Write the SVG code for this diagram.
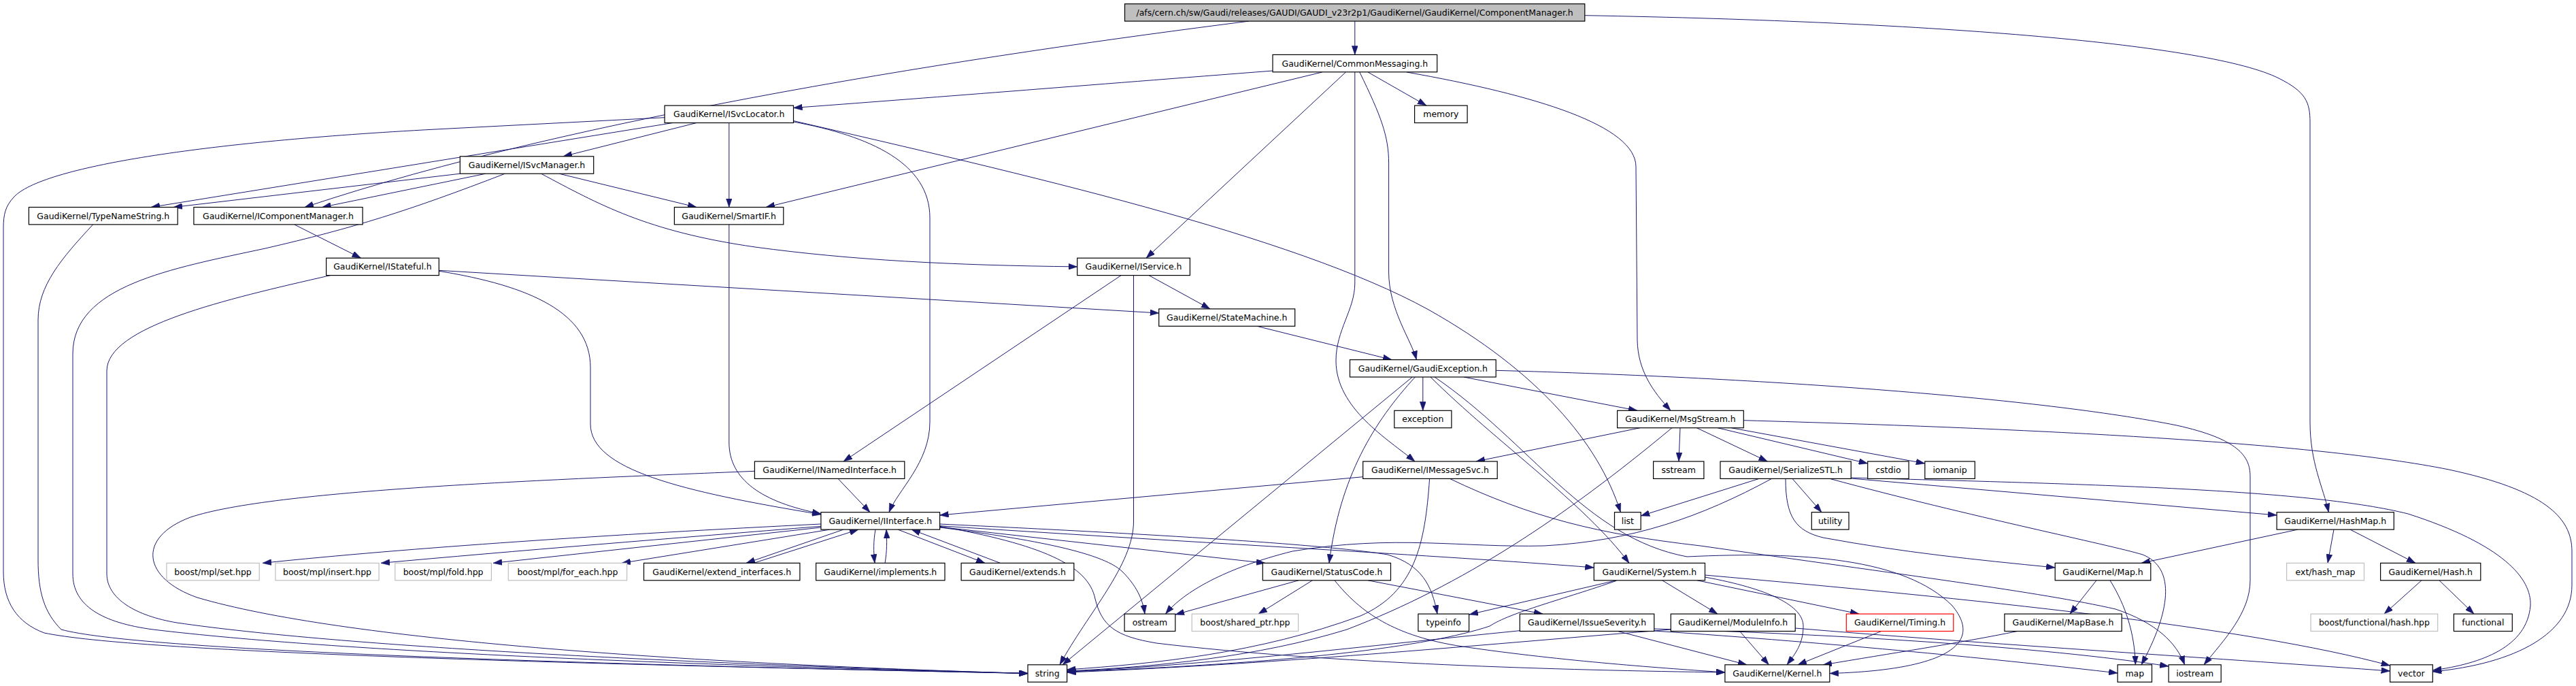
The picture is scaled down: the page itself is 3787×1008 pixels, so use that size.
<svg xmlns="http://www.w3.org/2000/svg" width="3787" height="1008" viewBox="0 0 3787 1008">
<style>
.node rect{fill:#fff;stroke:#000;stroke-width:1.2}
.node.ext rect{stroke:#bfbfbf}
.node.root rect{fill:#bfbfbf}
.node.red rect{stroke:#ff0000}
.node text{font-family:"DejaVu Sans","Liberation Sans",sans-serif;font-size:12.5px;text-anchor:middle;fill:#000}
#edges path{fill:none;stroke:#191970;stroke-width:1;marker-end:url(#arr)}
</style>
<defs>
<marker id="arr" markerUnits="userSpaceOnUse" markerWidth="13" markerHeight="9" refX="13" refY="4.5" orient="auto">
<path d="M0,0 L13,4.5 L0,9 z" fill="#191970" stroke="#191970" stroke-width="0.5"/>
</marker>
</defs>
<rect x="0" y="0" width="3787" height="1008" fill="#fff"/>
<g id="edges">
<path d="M1991.8,31.1 L1991.8,80.4"/>
<path d="M1836,31.1 C1450,80 850,170 448,304.5"/>
<path d="M2329.8,22.7 C2850,32 3250,65 3350,115 C3390,135 3396,150 3396,180 L3396,620 C3396,680 3415,715 3423.4,752.7"/>
<path d="M1871,104 C1600,125 1350,145 1166.5,158.5"/>
<path d="M1943.7,106 L1126,304.5"/>
<path d="M1978.4,106 L1685,379.2"/>
<path d="M1991.8,106 L1991.8,416 C1991.8,455 1964,485 1964,530 C1964,600 2040,645 2080,678"/>
<path d="M1998.8,106 C2030,170 2041.6,200 2041.6,240 L2041.6,400 C2041.6,455 2075,500 2082.4,528.6"/>
<path d="M2068,106 C2260,140 2405,185 2405,245 L2407,500 C2408,545 2430,575 2456,603.3"/>
<path d="M2011,106 L2097,155.1"/>
<path d="M1024,180.5 L828,229.8"/>
<path d="M1071.8,180.5 L1071.8,304.5"/>
<path d="M989,180.5 L222,304.5"/>
<path d="M977.1,172.7 L640,190 C300,208 60,245 20,290 C8,303 5,315 5,335 L5,840 C5,885 25,915 65,930 C200,958 800,975 1511,989.5"/>
<path d="M1166.5,179 C1280,200 1367,240 1367,320 L1367,620 C1367,680 1320,720 1307,752.7"/>
<path d="M1166.5,177.5 C1500,255 1900,345 2100,455 C2260,545 2350,650 2382.4,752.7"/>
<path d="M676.3,255.2 L255,304.5"/>
<path d="M714,255.2 L473.5,304.5"/>
<path d="M822,255.2 L1024,304.5"/>
<path d="M795.5,255.2 C880,300 950,340 1110,363 C1250,382 1400,390 1583.7,391.9"/>
<path d="M742.4,255.2 C600,310 520,335 390,365 C250,395 107,420 107,520 L107,843 C107,890 150,915 225,925 C500,958 1000,977 1511,989.5"/>
<path d="M432.7,329.9 L530.6,379.2"/>
<path d="M136.7,329.9 C90,380 56,420 56,470 L56,823 C56,870 65,900 90,925 C200,955 800,975 1511,989.5"/>
<path d="M1071.8,329.9 L1071.8,650 C1071.8,705 1120,738 1207,755"/>
<path d="M645.3,397.3 L1703.7,460"/>
<path d="M645.3,398.3 C780,420 868,460 868,540 L868,623 C868,690 1000,722 1207,756"/>
<path d="M485.7,404.6 C330,440 157,480 157,545 L157,843 C157,880 200,905 260,915 C500,950 1000,975 1511,989.5"/>
<path d="M1648.2,404.6 L1240,678"/>
<path d="M1689,404.6 L1779,453.9"/>
<path d="M1666.5,404.6 L1666.5,766 C1666.5,830 1600,900 1558,976.8"/>
<path d="M1848,479.3 L2046,528.6"/>
<path d="M2091.8,554 L2091.8,603.3"/>
<path d="M2151.8,554 L2407,603.3"/>
<path d="M2199.2,544.3 C2600,555 3000,585 3200,625 C3290,645 3308,670 3308,700 L3308,853 C3308,900 3270,940 3240,976.8"/>
<path d="M2076.3,554 L1562,976.8"/>
<path d="M2080.4,554 C2020,620 1970,700 1954,827.4"/>
<path d="M2103,554 C2200,650 2330,740 2395,827.4"/>
<path d="M2109,554 C2250,650 2330,790 2480,818 C2650,810 2800,820 2870,890 C2920,950 2850,985 2689.8,989.5"/>
<path d="M2411,628.7 L2170,678"/>
<path d="M2470,628.7 L2468,678"/>
<path d="M2458,628.7 C2300,760 2150,860 1980,925 C1850,965 1700,980 1568.6,986"/>
<path d="M2494.3,628.7 L2598.4,678"/>
<path d="M2525,628.7 L2745.7,681"/>
<path d="M2545,628.7 L2829.8,681"/>
<path d="M2563.3,617.7 C3000,630 3400,650 3600,690 C3740,720 3781,760 3781,810 L3781,860 C3781,930 3700,975 3576.3,987"/>
<path d="M2003.7,700.7 L1381.6,757"/>
<path d="M2101.6,703.4 C2095,800 2080,870 2000,905 C1850,960 1700,975 1568.6,984"/>
<path d="M2131.4,703.4 C2250,760 2350,785 2500,802 C2800,845 3000,870 3110,895 C3170,915 3200,945 3211.7,976.8"/>
<path d="M1232,703.4 L1279,752.7"/>
<path d="M1109.4,692.3 C800,705 400,720 280,760 C200,790 210,850 290,878 C500,940 1000,975 1511,989.5"/>
<path d="M2604.5,703.4 C2500,760 2400,795 2270,802 C2150,805 2050,785 1900,810 C1800,835 1740,870 1713.5,902.1"/>
<path d="M2586,703.4 L2412.2,758"/>
<path d="M2635,703.4 L2678,752.7"/>
<path d="M2625,703.4 C2625,760 2640,780 2680,790 C2800,812 2900,822 3021.2,834"/>
<path d="M2690,703.4 C2900,760 3100,800 3150,815 C3200,835 3190,900 3148,976.8"/>
<path d="M2721.2,703 L3347.1,757"/>
<path d="M2721.2,702 C3100,712 3400,720 3540,755 C3680,800 3722,850 3720,890 C3715,950 3650,975 3576.3,985"/>
<path d="M1206.9,770 C900,785 600,805 386,827.4"/>
<path d="M1206.9,773.3 C1000,790 750,810 560,827.4"/>
<path d="M1206.9,775 L725,827.4"/>
<path d="M1220,778.1 L914,827.4"/>
<path d="M1240,778.1 L1097,827.4"/>
<path d="M1108,827.4 L1262,778.1"/>
<path d="M1287,778.1 C1284,795 1284,810 1286,827.4"/>
<path d="M1301,827.4 C1304,810 1304,795 1303,778.1"/>
<path d="M1320,778.1 L1448,827.4"/>
<path d="M1470.6,827.4 L1340,778.1"/>
<path d="M1381.6,774.3 L1860,827.4"/>
<path d="M1381.6,772.7 C1800,800 2100,815 2343.3,834"/>
<path d="M1381.6,775 C1500,790 1620,810 1650,840 C1670,860 1680,880 1683,902.1"/>
<path d="M1381.6,770 C1700,785 1950,800 2040,815 C2090,830 2105,860 2113,902.1"/>
<path d="M1381.6,773.3 C1530,800 1600,830 1610,880 C1620,920 1640,935 1700,945 C1950,975 2300,985 2535.9,988"/>
<path d="M1909,852.8 L1728,903"/>
<path d="M1929.4,852.8 L1850,902.1"/>
<path d="M2011,852.8 L2268,902.1"/>
<path d="M1962,852.8 C2000,900 2050,935 2150,950 C2300,972 2450,982 2535.9,988"/>
<path d="M2234.3,926.7 C2000,950 1800,975 1568.6,987"/>
<path d="M2378.4,927.5 L2568,976.8"/>
<path d="M2431.8,927 C2700,945 2950,970 3113.1,989"/>
<path d="M2431.8,924 C2700,932 3000,950 3188.1,979"/>
<path d="M2376.3,852.8 L2160,903"/>
<path d="M2376.3,853.3 C2300,880 2220,900 2190,920 C2100,950 1900,975 1568.6,987"/>
<path d="M2443.7,852.8 L2525,902.1"/>
<path d="M2495,852.8 L2733,902.1"/>
<path d="M2506.5,848 C2600,865 2651,890 2651,920 C2651,945 2640,960 2627,976.8"/>
<path d="M2506.5,845 C2900,880 3300,920 3513.6,978"/>
<path d="M2557.6,927.5 L2600.4,976.8"/>
<path d="M2456.3,925 C2200,945 1900,975 1568.6,988"/>
<path d="M2639.2,923 C2900,945 3300,970 3513.6,986"/>
<path d="M2765.7,927.5 L2643,976.8"/>
<path d="M2965.7,927.5 C2880,945 2780,960 2680,977"/>
<path d="M3082,852.8 L3043,902.1"/>
<path d="M3102,852.8 C3125,890 3138,930 3139.4,976.8"/>
<path d="M3378,778.1 L3148,827.4"/>
<path d="M3431,778.1 L3422,827.4"/>
<path d="M3455,778.1 L3551,827.4"/>
<path d="M3560,852.8 L3505,902.1"/>
<path d="M3586,852.8 L3637,902.1"/>
</g>
<g id="node-root" class="node root"><rect x="1653.5" y="5.7" width="676.3" height="25.4"/><text x="1991.65" y="22.8">/afs/cern.ch/sw/Gaudi/releases/GAUDI/GAUDI_v23r2p1/GaudiKernel/GaudiKernel/ComponentManager.h</text></g>
<g id="node-CommonMessaging" class="node"><rect x="1871" y="80.4" width="241.7" height="25.4"/><text x="1991.85" y="97.5">GaudiKernel/CommonMessaging.h</text></g>
<g id="node-memory" class="node"><rect x="2079.6" y="155.1" width="77.5" height="25.4"/><text x="2118.35" y="172.2">memory</text></g>
<g id="node-ISvcLocator" class="node"><rect x="977.1" y="155.1" width="189.4" height="25.4"/><text x="1071.8" y="172.2">GaudiKernel/ISvcLocator.h</text></g>
<g id="node-ISvcManager" class="node"><rect x="676.3" y="229.8" width="196.4" height="25.4"/><text x="774.5" y="246.9">GaudiKernel/ISvcManager.h</text></g>
<g id="node-TypeNameString" class="node"><rect x="42.4" y="304.5" width="218.8" height="25.4"/><text x="151.8" y="321.6">GaudiKernel/TypeNameString.h</text></g>
<g id="node-IComponentManager" class="node"><rect x="284.9" y="304.5" width="248.2" height="25.4"/><text x="409" y="321.6">GaudiKernel/IComponentManager.h</text></g>
<g id="node-SmartIF" class="node"><rect x="991.4" y="304.5" width="160.4" height="25.4"/><text x="1071.6" y="321.6">GaudiKernel/SmartIF.h</text></g>
<g id="node-IStateful" class="node"><rect x="479.6" y="379.2" width="165.7" height="25.4"/><text x="562.45" y="396.3">GaudiKernel/IStateful.h</text></g>
<g id="node-IService" class="node"><rect x="1583.7" y="379.2" width="165.7" height="25.4"/><text x="1666.55" y="396.3">GaudiKernel/IService.h</text></g>
<g id="node-StateMachine" class="node"><rect x="1703.7" y="453.9" width="200" height="25.4"/><text x="1803.7" y="471">GaudiKernel/StateMachine.h</text></g>
<g id="node-GaudiException" class="node"><rect x="1984.5" y="528.6" width="214.7" height="25.4"/><text x="2091.85" y="545.7">GaudiKernel/GaudiException.h</text></g>
<g id="node-exception" class="node"><rect x="2049.8" y="603.3" width="84.1" height="25.4"/><text x="2091.85" y="620.4">exception</text></g>
<g id="node-MsgStream" class="node"><rect x="2377.6" y="603.3" width="185.7" height="25.4"/><text x="2470.45" y="620.4">GaudiKernel/MsgStream.h</text></g>
<g id="node-IMessageSvc" class="node"><rect x="2003.7" y="678" width="197.5" height="25.4"/><text x="2102.45" y="695.1">GaudiKernel/IMessageSvc.h</text></g>
<g id="node-INamedInterface" class="node"><rect x="1109.4" y="678" width="220.4" height="25.4"/><text x="1219.6" y="695.1">GaudiKernel/INamedInterface.h</text></g>
<g id="node-sstream" class="node"><rect x="2430.6" y="678" width="74.3" height="25.4"/><text x="2467.75" y="695.1">sstream</text></g>
<g id="node-SerializeSTL" class="node"><rect x="2529" y="678" width="192.2" height="25.4"/><text x="2625.1" y="695.1">GaudiKernel/SerializeSTL.h</text></g>
<g id="node-cstdio" class="node"><rect x="2745.7" y="678" width="60.4" height="25.4"/><text x="2775.9" y="695.1">cstdio</text></g>
<g id="node-iomanip" class="node"><rect x="2829.8" y="678" width="73.5" height="25.4"/><text x="2866.55" y="695.1">iomanip</text></g>
<g id="node-IInterface" class="node"><rect x="1206.9" y="752.7" width="174.7" height="25.4"/><text x="1294.25" y="769.8">GaudiKernel/IInterface.h</text></g>
<g id="node-list" class="node"><rect x="2373.5" y="752.7" width="38.7" height="25.4"/><text x="2392.85" y="769.8">list</text></g>
<g id="node-utility" class="node"><rect x="2663.3" y="752.7" width="54.7" height="25.4"/><text x="2690.65" y="769.8">utility</text></g>
<g id="node-HashMap" class="node"><rect x="3347.1" y="752.7" width="172.2" height="25.4"/><text x="3433.2" y="769.8">GaudiKernel/HashMap.h</text></g>
<g id="node-mpl-set" class="node ext"><rect x="244.9" y="827.4" width="136.3" height="25.4"/><text x="313.05" y="844.5">boost/mpl/set.hpp</text></g>
<g id="node-mpl-insert" class="node ext"><rect x="404.9" y="827.4" width="152.2" height="25.4"/><text x="481" y="844.5">boost/mpl/insert.hpp</text></g>
<g id="node-mpl-fold" class="node ext"><rect x="580.8" y="827.4" width="141.6" height="25.4"/><text x="651.6" y="844.5">boost/mpl/fold.hpp</text></g>
<g id="node-mpl-for_each" class="node ext"><rect x="747.3" y="827.4" width="174.3" height="25.4"/><text x="834.45" y="844.5">boost/mpl/for_each.hpp</text></g>
<g id="node-extend_interfaces" class="node"><rect x="946.5" y="827.4" width="229.4" height="25.4"/><text x="1061.2" y="844.5">GaudiKernel/extend_interfaces.h</text></g>
<g id="node-implements" class="node"><rect x="1199.6" y="827.4" width="189.4" height="25.4"/><text x="1294.3" y="844.5">GaudiKernel/implements.h</text></g>
<g id="node-extends" class="node"><rect x="1413.1" y="827.4" width="165.7" height="25.4"/><text x="1495.95" y="844.5">GaudiKernel/extends.h</text></g>
<g id="node-StatusCode" class="node"><rect x="1856.3" y="827.4" width="188.2" height="25.4"/><text x="1950.4" y="844.5">GaudiKernel/StatusCode.h</text></g>
<g id="node-System" class="node"><rect x="2343.3" y="827.4" width="163.2" height="25.4"/><text x="2424.9" y="844.5">GaudiKernel/System.h</text></g>
<g id="node-Map" class="node"><rect x="3021.2" y="827.4" width="140.6" height="25.4"/><text x="3091.5" y="844.5">GaudiKernel/Map.h</text></g>
<g id="node-ext-hash_map" class="node ext"><rect x="3361.6" y="827.4" width="113.9" height="25.4"/><text x="3418.55" y="844.5">ext/hash_map</text></g>
<g id="node-Hash" class="node"><rect x="3499.6" y="827.4" width="147.2" height="25.4"/><text x="3573.2" y="844.5">GaudiKernel/Hash.h</text></g>
<g id="node-ostream" class="node"><rect x="1653.1" y="902.1" width="74.7" height="25.4"/><text x="1690.45" y="919.2">ostream</text></g>
<g id="node-shared_ptr" class="node ext"><rect x="1752.2" y="902.1" width="156.4" height="25.4"/><text x="1830.4" y="919.2">boost/shared_ptr.hpp</text></g>
<g id="node-typeinfo" class="node"><rect x="2084.9" y="902.1" width="74.7" height="25.4"/><text x="2122.25" y="919.2">typeinfo</text></g>
<g id="node-IssueSeverity" class="node"><rect x="2234.3" y="902.1" width="197.5" height="25.4"/><text x="2333.05" y="919.2">GaudiKernel/IssueSeverity.h</text></g>
<g id="node-ModuleInfo" class="node"><rect x="2456.3" y="902.1" width="182.9" height="25.4"/><text x="2547.75" y="919.2">GaudiKernel/ModuleInfo.h</text></g>
<g id="node-Timing" class="node red"><rect x="2714.3" y="902.1" width="157.5" height="25.4"/><text x="2793.05" y="919.2">GaudiKernel/Timing.h</text></g>
<g id="node-MapBase" class="node"><rect x="2946.9" y="902.1" width="172.3" height="25.4"/><text x="3033.05" y="919.2">GaudiKernel/MapBase.h</text></g>
<g id="node-functional-hash" class="node ext"><rect x="3397.1" y="902.1" width="186.6" height="25.4"/><text x="3490.4" y="919.2">boost/functional/hash.hpp</text></g>
<g id="node-functional" class="node"><rect x="3607.4" y="902.1" width="85.9" height="25.4"/><text x="3650.35" y="919.2">functional</text></g>
<g id="node-string" class="node"><rect x="1511" y="976.8" width="57.6" height="25.4"/><text x="1539.8" y="993.9">string</text></g>
<g id="node-Kernel" class="node"><rect x="2535.9" y="976.8" width="153.9" height="25.4"/><text x="2612.85" y="993.9">GaudiKernel/Kernel.h</text></g>
<g id="node-map" class="node"><rect x="3113.1" y="976.8" width="50.4" height="25.4"/><text x="3138.3" y="993.9">map</text></g>
<g id="node-iostream" class="node"><rect x="3188.1" y="976.8" width="77.1" height="25.4"/><text x="3226.65" y="993.9">iostream</text></g>
<g id="node-vector" class="node"><rect x="3513.6" y="976.8" width="62.7" height="25.4"/><text x="3544.95" y="993.9">vector</text></g>
</svg>
